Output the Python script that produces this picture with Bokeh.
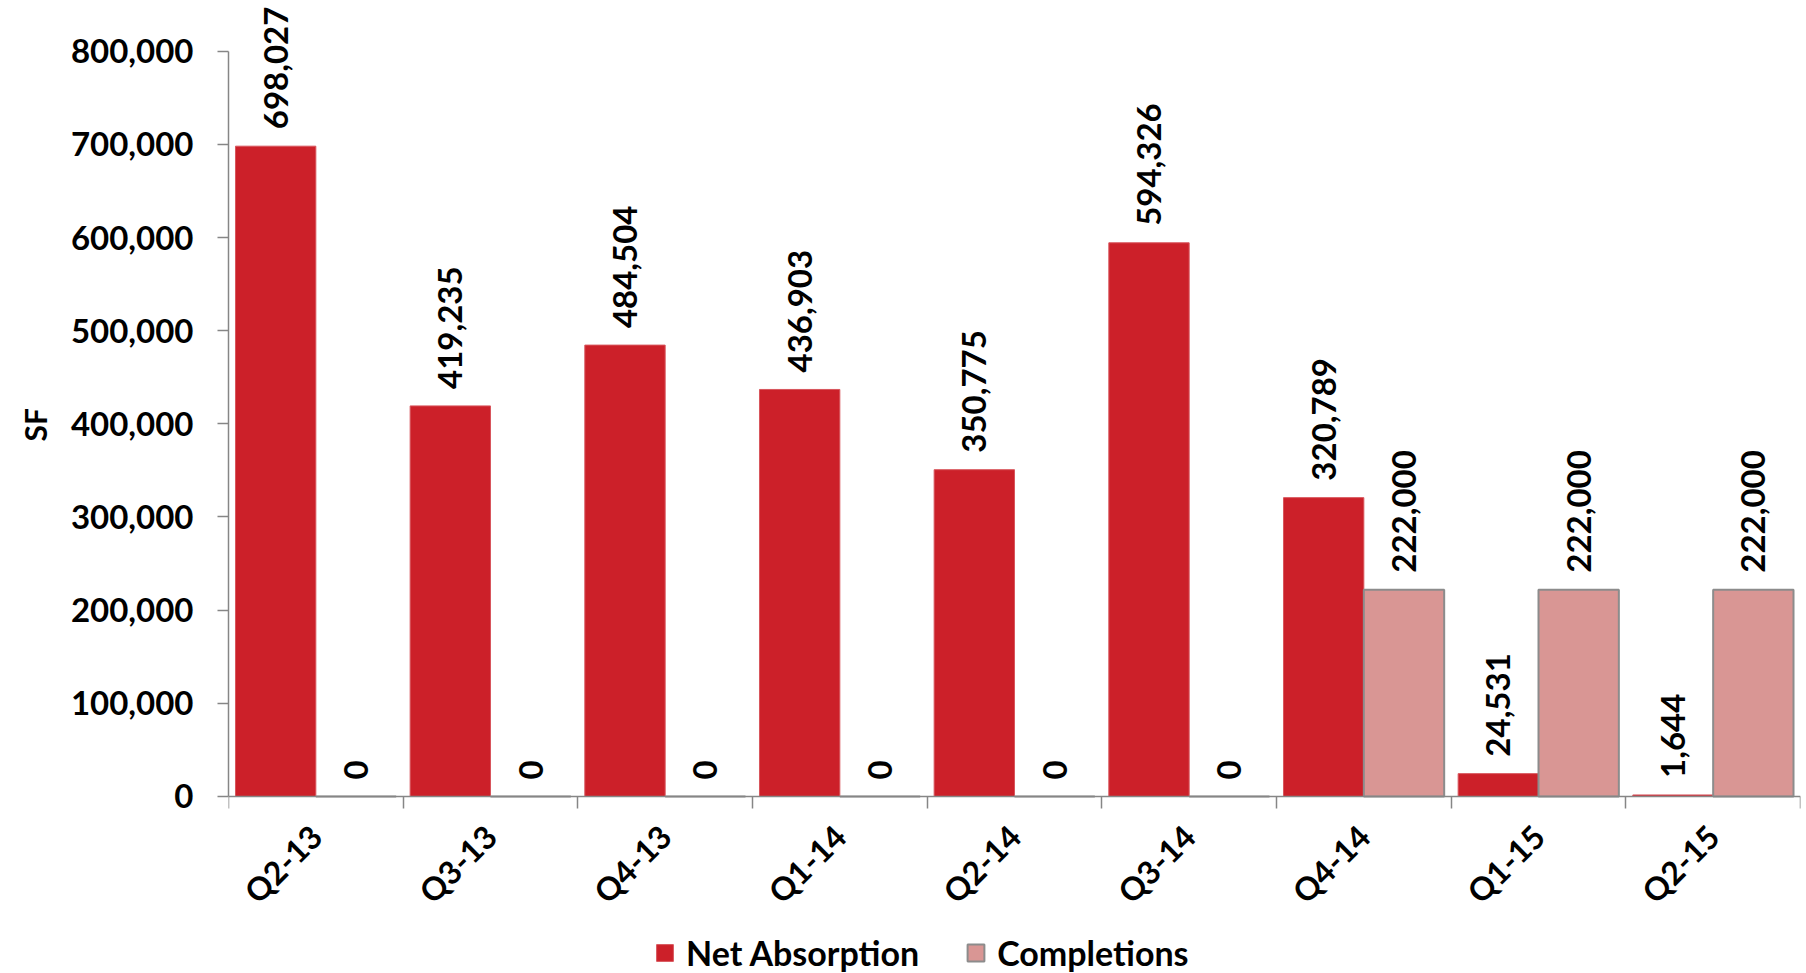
import math

from bokeh.core.properties import value
from bokeh.embed import file_html
from bokeh.models import (ColumnDataSource, FixedTicker, LabelSet, Legend,
                          LegendItem, NumeralTickFormatter, Range1d, Title)
from bokeh.plotting import figure
from bokeh.resources import INLINE

# Quarterly office market figures (square feet)
quarters = ["Q2-13", "Q3-13", "Q4-13", "Q1-14", "Q2-14", "Q3-14", "Q4-14", "Q1-15", "Q2-15"]
net_absorption = [698027, 419235, 484504, 436903, 350775, 594326, 320789, 24531, 1644]
completions = [0, 0, 0, 0, 0, 0, 222000, 222000, 222000]
y_ticks = [0, 100000, 200000, 300000, 400000, 500000, 600000, 700000, 800000]

RED = "#CC2029"
PINK = "#D99694"
AXIS = "#868686"
FONT = "Lato"
BAR_W = 0.46

idx = list(range(len(quarters)))
net_src = ColumnDataSource(dict(
    x=[i - BAR_W / 2 for i in idx],
    y=net_absorption,
    label=[f"{v:,}" for v in net_absorption],
))
comp_src = ColumnDataSource(dict(
    x=[i + BAR_W / 2 for i in idx],
    y=completions,
    label=[f"{v:,}" for v in completions],
))

# The frame runs the full canvas height; the value axis is bounded to 0..800k
# and the category axis sits at y = 0, leaving room below for labels and legend.
p = figure(
    width=1806, height=973,
    x_range=Range1d(-0.5, len(quarters) - 0.5),
    y_range=Range1d(-190000, 854400),
    output_backend="svg", toolbar_location=None,
    min_border_left=228, min_border_right=6,
    min_border_top=0, min_border_bottom=0,
)
p.outline_line_color = None
p.xgrid.visible = False
p.ygrid.visible = False

r_net = p.vbar(x="x", top="y", width=BAR_W, source=net_src,
               fill_color=RED, line_color="#D8555C", line_width=1)
r_comp = p.vbar(x="x", top="y", width=BAR_W, source=comp_src,
                fill_color=PINK, line_color="#8C8C8C", line_width=2)

label_style = dict(angle=math.pi / 2, text_align="left", text_baseline="middle",
                   y_offset=17, text_font=value(FONT), text_font_style="bold",
                   text_font_size="33px", text_color="black")
p.add_layout(LabelSet(x="x", y="y", text="label", source=net_src, **label_style))
p.add_layout(LabelSet(x="x", y="y", text="label", source=comp_src, **label_style))

# y axis
ya = p.yaxis[0]
ya.ticker = FixedTicker(ticks=y_ticks)
ya.formatter = NumeralTickFormatter(format="0,0")
ya.bounds = (0, 800000)
ya.axis_line_color = AXIS
ya.axis_line_width = 1.5
ya.major_tick_line_color = AXIS
ya.major_tick_line_width = 1.5
ya.major_tick_out = 11
ya.major_tick_in = 0
ya.minor_tick_line_color = None
ya.major_label_standoff = 24
ya.major_label_text_font = FONT
ya.major_label_text_font_style = "bold"
ya.major_label_text_font_size = "33px"
ya.major_label_text_color = "black"

# value-axis caption, placed beside the middle of the 0..800k span
p.add_layout(Title(text="SF", align="left", offset=532, standoff=29,
                   text_font=FONT, text_font_style="bold",
                   text_font_size="30px", text_color="black"), "left")

# x axis: labels at category centres, ticks at category boundaries
xa = p.xaxis[0]
xa.fixed_location = 0
xa.ticker = FixedTicker(ticks=idx, minor_ticks=[i - 0.5 for i in range(len(quarters) + 1)])
xa.major_label_overrides = {i: q for i, q in zip(idx, quarters)}
xa.major_label_orientation = math.pi / 4
xa.axis_line_color = AXIS
xa.axis_line_width = 1.5
xa.major_tick_line_color = None
xa.major_tick_out = 0
xa.major_tick_in = 0
xa.minor_tick_line_color = AXIS
xa.minor_tick_line_width = 1.5
xa.minor_tick_out = 12
xa.minor_tick_in = 0
xa.major_label_standoff = 22
xa.major_label_text_font = FONT
xa.major_label_text_font_style = "bold"
xa.major_label_text_font_size = "32px"
xa.major_label_text_color = "black"

legend = Legend(
    items=[LegendItem(label="Net Absorption", renderers=[r_net]),
           LegendItem(label="Completions", renderers=[r_comp])],
    orientation="horizontal", location=(426, 0),
    glyph_width=21, glyph_height=21, label_standoff=11, spacing=46,
    padding=0, margin=0, border_line_color=None, background_fill_alpha=0,
    label_text_font=FONT, label_text_font_style="bold",
    label_text_font_size="34px", label_text_color="black",
)
p.add_layout(legend, "center")

open("out.html", "w").write(file_html(p, INLINE))
